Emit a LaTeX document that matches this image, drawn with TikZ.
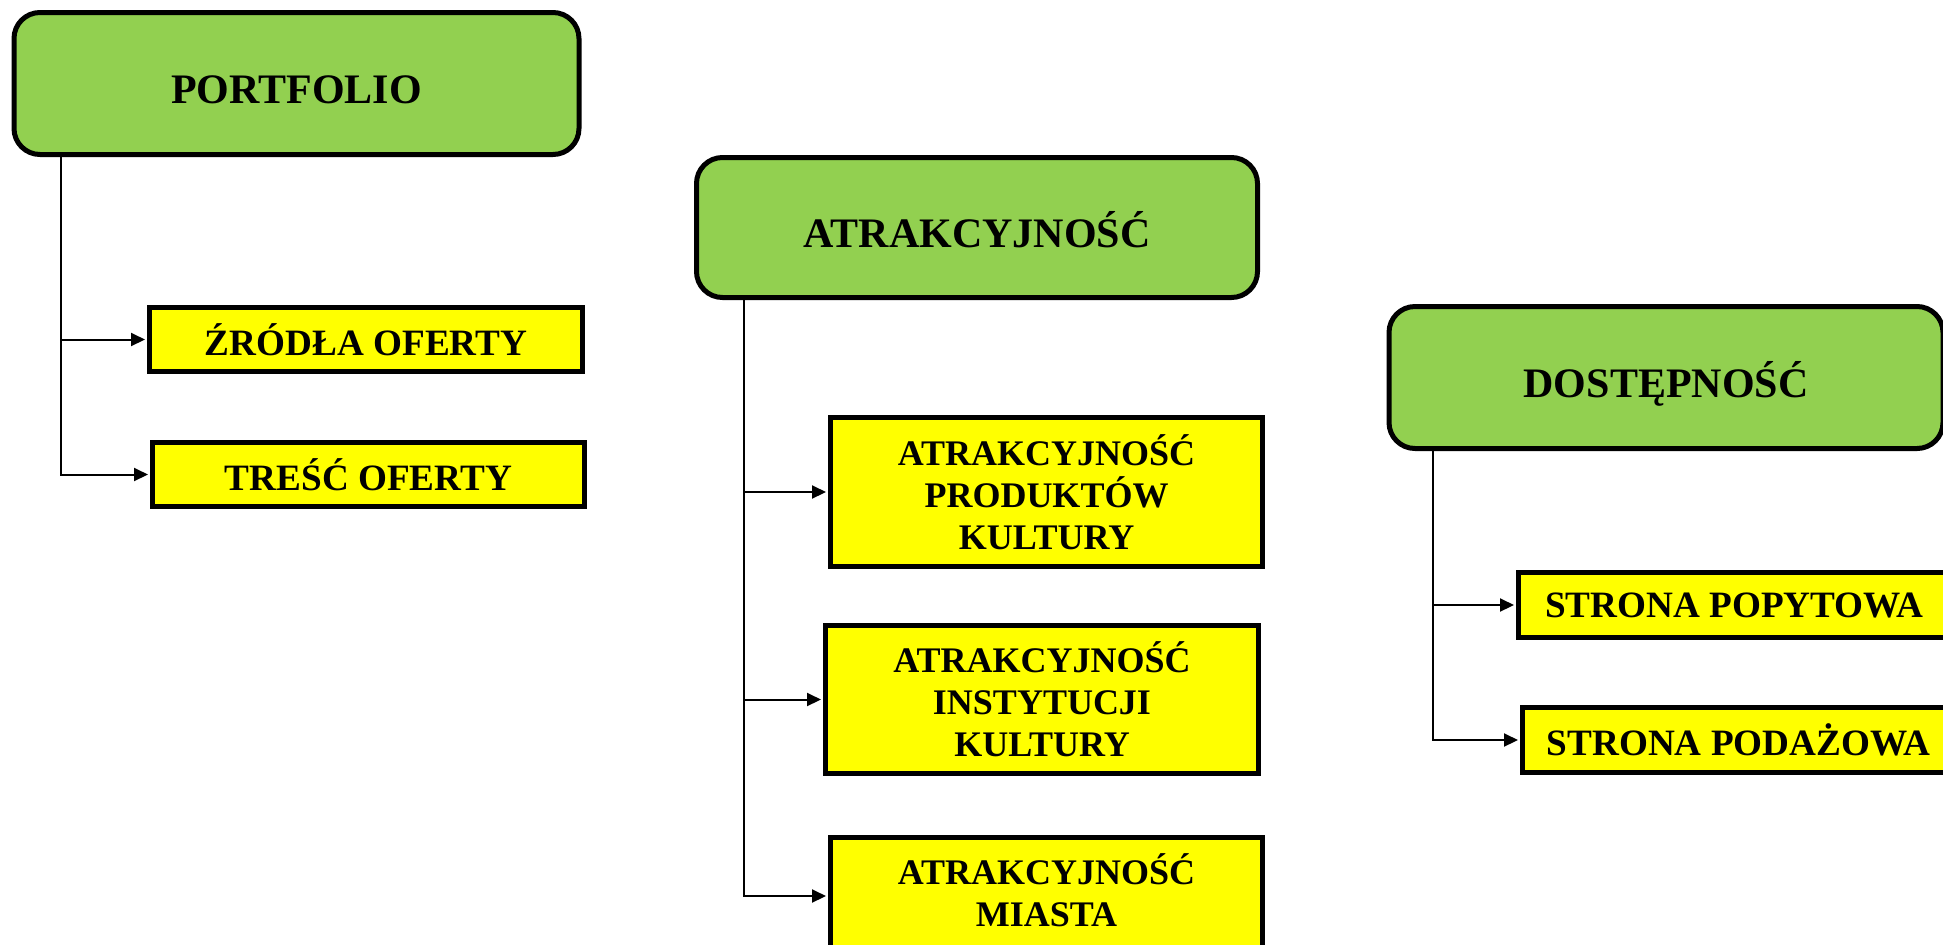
\documentclass[tikz,border=0pt]{standalone}
\usepackage{fontspec}
\setmainfont{Liberation Serif}
\usetikzlibrary{arrows.meta}
\definecolor{boxgreen}{HTML}{92D050}
\definecolor{boxyellow}{HTML}{FFFF00}
\tikzset{
  head/.style={draw=black, line width=2.5pt, fill=boxgreen, rounded corners=13pt,
    inner sep=0pt, text height=24pt, text depth=4pt,
    font=\bfseries\fontsize{21}{25}\selectfont, text=black},
  leaf/.style={draw=black, line width=2.5pt, fill=boxyellow, inner sep=0pt,
    align=center, font=\bfseries\fontsize{18}{21}\selectfont, text=black},
  leafone/.style={leaf, font=\bfseries\fontsize{18.6}{21}\selectfont},
  conn/.style={draw=black, line width=1pt, -{Triangle[length=7pt,width=6.5pt]}, shorten >=1pt}
}
\begin{document}
\begin{tikzpicture}[x=0.5pt,y=-0.5pt]
\useasboundingbox (0,0) rectangle (1943,944);
\fill[white] (0,0) rectangle (1943,944);
% parents
\node[head, minimum width=282.5pt, minimum height=71pt] (P) at (296.5,83.5) {PORTFOLIO};
\node[head, minimum width=280.5pt, minimum height=70pt] (A) at (977,227.5) {ATRAKCYJNOŚĆ};
\node[head, minimum width=277pt, minimum height=71pt] (D) at (1666,377.5) {DOSTĘPNOŚĆ};
% leaves
\node[leafone, minimum width=216.5pt, minimum height=32pt] (Z) at (366,339.5) {ŹRÓDŁA OFERTY};
\node[leafone, minimum width=216pt, minimum height=32pt] (T) at (368.5,474.5) {TREŚĆ OFERTY};
\node[leaf, minimum width=216pt, minimum height=74.5pt] (A1) at (1046.5,492) {ATRAKCYJNOŚĆ\\PRODUKTÓW\\KULTURY};
\node[leaf, minimum width=216.5pt, minimum height=74pt] (A2) at (1042,699.5) {ATRAKCYJNOŚĆ\\INSTYTUCJI\\KULTURY};
\node[leaf, minimum width=216pt, minimum height=74.5pt, text depth=22pt] (A3) at (1046.5,912) {ATRAKCYJNOŚĆ\\MIASTA};
\node[leafone, minimum width=216pt, minimum height=32.5pt] (S1) at (1734.5,605) {STRONA POPYTOWA};
\node[leafone, minimum width=216pt, minimum height=32.5pt] (S2) at (1738.5,740) {STRONA PODAŻOWA};
% connectors
\draw[conn] ([xshift=24.75pt]P.south west) |- (Z.west);
\draw[conn] ([xshift=24.75pt]P.south west) |- (T.west);
\draw[conn] ([xshift=24.75pt]A.south west) |- (A1.west);
\draw[conn] ([xshift=24.75pt]A.south west) |- (A2.west);
\draw[conn] ([xshift=24.75pt]A.south west) |- ([yshift=8pt]A3.west);
\draw[conn] ([xshift=23.25pt]D.south west) |- (S1.west);
\draw[conn] ([xshift=23.25pt]D.south west) |- (S2.west);
\end{tikzpicture}
\end{document}
